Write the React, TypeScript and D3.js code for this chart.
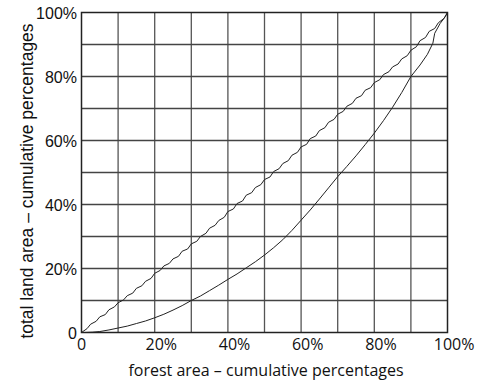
import React, { useEffect, useRef } from "react";
import * as d3 from "d3";

// tick labels
const xTicks = [0, 20, 40, 60, 80, 100];
const yTicks = [0, 20, 40, 60, 80, 100];

// upper curve (cumulative forest % vs cumulative land %)
const upperForest = [0, 1.5, 2.5, 4, 5, 6.5, 7.5, 9, 10, 11.5, 12.5, 14, 15, 16.5, 17.5, 19, 20, 21.5, 22.5, 24, 25, 26.5, 27.5, 29, 30, 31.5, 32.5, 34, 35, 36.5, 37.5, 39, 40, 41.5, 42.5, 44, 45, 46.5, 47.5, 49, 50, 51.5, 52.5, 54, 55, 56.5, 57.5, 59, 60, 61.5, 62.5, 64, 65, 66.5, 67.5, 69, 70, 71.5, 72.5, 74, 75, 76.5, 77.5, 79, 80, 81.5, 82.5, 84, 85, 86.5, 87.5, 89, 90, 91.5, 92.5, 94, 95, 96.5, 97.5, 99, 100];
const upperLand = [0, 1.2, 2.6, 3.5, 4.9, 5.6, 7.1, 8.0, 9.3, 10.2, 11.5, 12.3, 13.8, 14.6, 16.0, 16.9, 18.5, 19.4, 20.8, 21.6, 23.0, 23.8, 25.4, 26.1, 27.7, 28.5, 30.0, 31.0, 32.6, 33.5, 35.0, 36.0, 37.8, 38.6, 40.3, 41.1, 42.9, 43.7, 45.3, 46.2, 47.8, 48.6, 50.3, 51.2, 52.8, 53.7, 55.4, 56.3, 58.0, 58.8, 60.6, 61.4, 63.1, 64.0, 65.7, 66.6, 68.2, 69.1, 70.7, 71.6, 73.2, 74.0, 75.7, 76.5, 78.1, 79.0, 80.6, 81.5, 83.0, 83.9, 85.5, 86.5, 88.2, 89.3, 91.2, 92.2, 94.1, 95.0, 96.8, 98.1, 100];

// lower curve
const lowerForest = [0, 1, 3, 5, 7.5, 10, 12.5, 15, 17.5, 20, 22.5, 25, 27.5, 30, 32.5, 35, 37.5, 40, 42.5, 45, 47.5, 50, 52.5, 55, 57.5, 60, 62.5, 65, 67.5, 70, 72.5, 75, 77.5, 80, 82.5, 85, 87.5, 90, 92.5, 94.5, 96, 96.5, 98, 99.4, 100];
const lowerLand = [0, 0, 0.1, 0.3, 0.8, 1.4, 2.0, 2.8, 3.6, 4.6, 5.7, 7.0, 8.4, 10.0, 11.4, 13.1, 14.8, 16.6, 18.3, 20.2, 22.1, 24.2, 26.5, 29.0, 31.9, 35.1, 38.3, 41.7, 45.2, 48.7, 51.9, 55.2, 58.7, 62.3, 66.2, 70.4, 75.0, 80.0, 83.6, 86.9, 90.4, 93.5, 96.6, 98.7, 100];

const W = 481;
const H = 383;
const left = 81.5;
const right = 447.5;
const top = 12.5;
const bottom = 332.5;

export default function App() {
  const ref = useRef<SVGSVGElement>(null);

  useEffect(() => {
    const svg = d3.select(ref.current);
    svg.selectAll("*").remove();

    const x = d3.scaleLinear().domain([0, 100]).range([left, right]);
    const y = d3.scaleLinear().domain([0, 100]).range([bottom, top]);

    const grid = d3.range(10, 100, 10);
    svg
      .append("g")
      .selectAll("line")
      .data(grid)
      .join("line")
      .attr("x1", d => x(d))
      .attr("x2", d => x(d))
      .attr("y1", top)
      .attr("y2", bottom)
      .attr("stroke", "#555")
      .attr("stroke-width", 1.3);
    svg
      .append("g")
      .selectAll("line")
      .data(grid)
      .join("line")
      .attr("y1", d => y(d))
      .attr("y2", d => y(d))
      .attr("x1", left)
      .attr("x2", right)
      .attr("stroke", "#444")
      .attr("stroke-width", 1.3);

    svg
      .append("rect")
      .attr("x", left)
      .attr("y", top)
      .attr("width", right - left)
      .attr("height", bottom - top)
      .attr("fill", "none")
      .attr("stroke", "#222")
      .attr("stroke-width", 1.5);

    const line = d3
      .line<[number, number]>()
      .x(d => x(d[0]))
      .y(d => y(d[1]));

    const upper = upperForest.map((f, i) => [f, upperLand[i]] as [number, number]);
    const lower = lowerForest.map((f, i) => [f, lowerLand[i]] as [number, number]);
    [upper, lower].forEach(pts => {
      svg
        .append("path")
        .datum(pts)
        .attr("d", line)
        .attr("fill", "none")
        .attr("stroke", "#222")
        .attr("stroke-width", 1);
    });

    // y tick labels
    svg
      .append("g")
      .selectAll("text")
      .data(yTicks)
      .join("text")
      .attr("x", 77)
      .attr("y", d => y(d) + 6)
      .attr("text-anchor", "end")
      .attr("font-family", "Liberation Sans, Arial, sans-serif")
      .attr("font-size", 16)
      .attr("fill", "#111")
      .text(d => (d === 0 ? "0" : `${d}%`));

    // x tick labels: number centred on the tick, % hanging after
    const xl = svg.append("g");
    xTicks.forEach(d => {
      const t = xl
        .append("text")
        .attr("x", x(d))
        .attr("y", 350)
        .attr("text-anchor", "middle")
        .attr("font-family", "Open Sans, sans-serif")
        .attr("font-size", 16)
        .attr("fill", "#111")
        .text(String(d));
      if (d !== 0) {
        const w = (t.node() as SVGTextElement).getComputedTextLength();
        xl.append("text")
          .attr("x", x(d) + w / 2)
          .attr("y", 350)
          .attr("font-family", "Open Sans, sans-serif")
          .attr("font-size", 16)
          .attr("fill", "#111")
          .text("%");
      }
    });

    svg
      .append("text")
      .attr("x", 266)
      .attr("y", 376)
      .attr("text-anchor", "middle")
      .attr("font-family", "Open Sans, sans-serif")
      .attr("font-size", 16)
      .attr("fill", "#111")
      .text("forest area – cumulative percentages");

    svg
      .append("text")
      .attr("transform", `translate(33,181) rotate(-90)`)
      .attr("text-anchor", "middle")
      .attr("font-family", "Liberation Sans, Arial, sans-serif")
      .attr("font-size", 17.5)
      .attr("fill", "#111")
      .text("total land area – cumulative percentages");
  }, []);

  return (
    <svg
      ref={ref}
      width={W}
      height={H}
      style={{ position: "absolute", left: 0, top: 0, background: "#fff" }}
    />
  );
}
